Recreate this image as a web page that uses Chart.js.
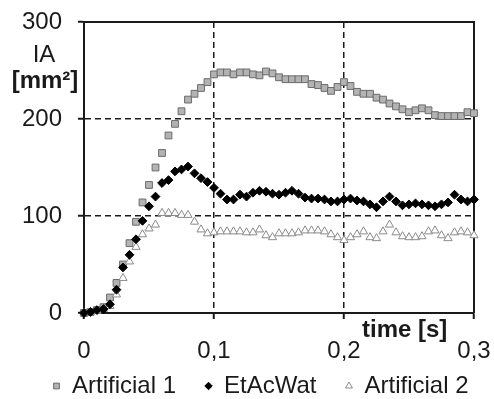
<!DOCTYPE html>
<html>
<head>
<meta charset="utf-8">
<script src="https://cdn.jsdelivr.net/npm/chart.js@4/dist/chart.umd.min.js"></script>
<style>
html, body { margin: 0; padding: 0; background: #fff; }
canvas { display: block; }
</style>
</head>
<body>
<canvas id="chart" width="494" height="399"></canvas>
<script>
// time [s], one sample every 5 ms
const times = [
  0, 0.005, 0.01, 0.015, 0.02, 0.025, 0.03, 0.035, 0.04, 0.045,
  0.05, 0.055, 0.06, 0.065, 0.07, 0.075, 0.08, 0.085, 0.09, 0.095,
  0.1, 0.105, 0.11, 0.115, 0.12, 0.125, 0.13, 0.135, 0.14, 0.145,
  0.15, 0.155, 0.16, 0.165, 0.17, 0.175, 0.18, 0.185, 0.19, 0.195,
  0.2, 0.205, 0.21, 0.215, 0.22, 0.225, 0.23, 0.235, 0.24, 0.245,
  0.25, 0.255, 0.26, 0.265, 0.27, 0.275, 0.28, 0.285, 0.29, 0.295, 0.3
];

// IA [mm²]
const artificial1 = [
  0, 1, 3, 6, 16, 31, 50, 72, 94, 114,
  132, 150, 165, 183, 195, 208, 220, 226, 232, 238,
  246, 248, 248, 246, 248, 248, 246, 245, 249, 247,
  243, 241, 241, 241, 241, 236, 235, 232, 229, 233,
  238, 234, 228, 226, 226, 222, 220, 216, 213, 210,
  207, 209, 211, 209, 204, 203, 203, 203, 203, 207, 206
];
const etAcWat = [
  0, 1, 3, 4, 9, 24, 47, 60, 76, 95,
  110, 120, 134, 137, 146, 148, 151, 144, 139, 135,
  129, 123, 117, 117, 122, 120, 124, 126, 125, 123,
  122, 124, 126, 123, 119, 118, 118, 117, 115, 115,
  117, 118, 116, 115, 112, 109, 115, 120, 115, 111,
  112, 113, 112, 111, 110, 112, 114, 122, 117, 115, 117
];
const artificial2 = [
  0, 1, 2, 4, 7, 19, 36, 53, 68, 81,
  87, 91, 103, 103, 103, 101, 101, 94, 86, 82,
  83, 84, 84, 84, 84, 83, 83, 86, 80, 78,
  82, 82, 82, 83, 85, 85, 85, 84, 81, 78,
  75, 78, 81, 84, 78, 77, 84, 91, 83, 79,
  78, 78, 79, 84, 85, 80, 77, 83, 84, 83, 80
];

const seriesNames = ['Artificial 1', 'EtAcWat', 'Artificial 2'];
const xTickValues = [0, 0.1, 0.2, 0.3];
const xTickLabels = ['0', '0,1', '0,2', '0,3'];
const yTickValues = [0, 100, 200, 300];
const yTickLabels = ['0', '100', '200', '300'];

const FONT = '"Liberation Sans", Arial, sans-serif';
const INK = '#1a1a1a';

const toPoints = vals => vals.map((v, i) => ({ x: times[i], y: v }));

// frame, axis titles and legend are drawn by hand, like the original figure
const decorations = {
    id: 'decorations',
    beforeDatasetsDraw(chart) {
        const { ctx, chartArea: a } = chart;
        ctx.save();
        ctx.strokeStyle = INK;
        ctx.lineWidth = 2;
        ctx.beginPath();
        ctx.moveTo(a.left, a.top);
        ctx.lineTo(a.right, a.top);
        ctx.lineTo(a.right, a.bottom);
        ctx.stroke();
        ctx.restore();
    },
    afterDraw(chart) {
        const { ctx } = chart;
        ctx.save();
        ctx.fillStyle = INK;
        ctx.textAlign = 'center';
        ctx.textBaseline = 'middle';
        ctx.font = '24px ' + FONT;
        ctx.fillText('IA', 44, 55);
        ctx.font = 'bold 24px ' + FONT;
        ctx.fillText('[mm²]', 45, 81);
        ctx.textAlign = 'left';
        ctx.fillText('time [s]', 362, 330);

        // legend
        ctx.font = '24px ' + FONT;
        let x = 53;
        const y = 386;
        chart.data.datasets.slice().sort((p, q) => p.legendIndex - q.legendIndex).forEach(ds => {
            ctx.fillStyle = ds.pointBackgroundColor;
            ctx.strokeStyle = ds.pointBorderColor;
            ctx.lineWidth = ds.pointBorderWidth;
            Chart.helpers.drawPoint(ctx, {
                pointStyle: ds.pointStyle,
                radius: ds.pointRadius * 0.85,
                rotation: 0,
                borderWidth: ds.pointBorderWidth
            }, x + 3.5, y);
            ctx.fillStyle = INK;
            ctx.fillText(ds.label, x + 19, y);
            x += 19 + ctx.measureText(ds.label).width + 29;
        });
        ctx.restore();
    }
};

new Chart(document.getElementById('chart'), {
    type: 'line',
    data: {
        datasets: [
            {
                label: seriesNames[0], legendIndex: 0, order: 2,
                data: toPoints(artificial1),
                showLine: false, clip: false,
                pointStyle: 'rect', pointRadius: 4.8,
                pointBackgroundColor: '#b3b3b3', pointBorderColor: '#6b6b6b', pointBorderWidth: 1
            },
            {
                label: seriesNames[1], legendIndex: 1, order: 0,
                data: toPoints(etAcWat),
                showLine: false, clip: false,
                pointStyle: 'rectRot', pointRadius: 4.4,
                pointBackgroundColor: '#000', pointBorderColor: '#000', pointBorderWidth: 1
            },
            {
                label: seriesNames[2], legendIndex: 2, order: 1,
                data: toPoints(artificial2),
                showLine: false, clip: false,
                pointStyle: 'triangle', pointRadius: 4.7,
                pointBackgroundColor: '#fff', pointBorderColor: '#8a8a8a', pointBorderWidth: 1
            }
        ]
    },
    options: {
        responsive: false,
        devicePixelRatio: 1,
        animation: false,
        layout: { padding: { top: 22, right: 20, left: 0, bottom: 0 } },
        plugins: {
            legend: { display: false },
            tooltip: { enabled: false }
        },
        scales: {
            x: {
                type: 'linear', min: 0, max: 0.3,
                afterBuildTicks: s => { s.ticks = xTickValues.map(v => ({ value: v })); },
                afterFit: s => { s.height = 86; s.paddingLeft = 0; s.paddingRight = 0; },
                ticks: {
                    callback: (v, i) => xTickLabels[i],
                    font: { family: FONT, size: 24 }, color: INK,
                    padding: 18, maxRotation: 0
                },
                grid: {
                    color: c => (c.tick && (c.tick.value === 0.1 || c.tick.value === 0.2)) ? INK : 'rgba(0,0,0,0)',
                    lineWidth: 1.5, tickColor: INK, tickLength: 6, tickWidth: 2
                },
                border: { display: true, color: INK, width: 2, dash: [6, 4] }
            },
            y: {
                type: 'linear', min: 0, max: 300,
                afterBuildTicks: s => { s.ticks = yTickValues.map(v => ({ value: v })); },
                afterFit: s => { s.width = 84; s.paddingTop = 0; s.paddingBottom = 0; },
                ticks: {
                    callback: (v, i) => yTickLabels[i],
                    font: { family: FONT, size: 24 }, color: INK,
                    padding: 16
                },
                grid: {
                    color: c => (c.tick && (c.tick.value === 100 || c.tick.value === 200)) ? INK : 'rgba(0,0,0,0)',
                    lineWidth: 1.5, tickColor: INK, tickLength: 6, tickWidth: 2
                },
                border: { display: true, color: INK, width: 2, dash: [6, 4] }
            }
        }
    },
    plugins: [decorations]
});
</script>
</body>
</html>
